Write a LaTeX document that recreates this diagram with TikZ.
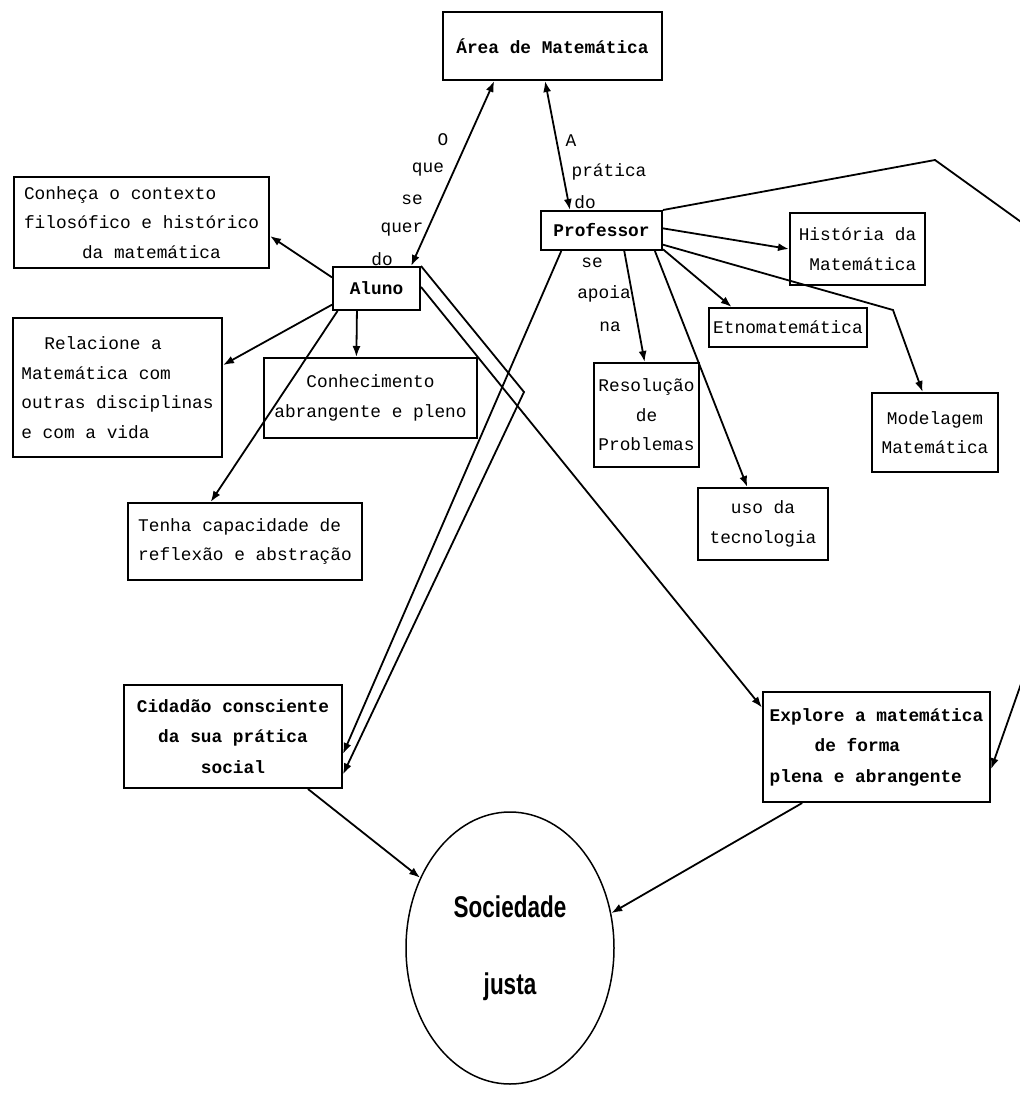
\documentclass[tikz,border=0pt]{standalone}
\usepackage{fontspec}
\setmonofont{Liberation Mono}
\newfontfamily\narrowsans[FakeStretch=0.75]{Liberation Sans}
\usetikzlibrary{arrows.meta,shapes.geometric}
\tikzset{
	box/.style={draw, line width=2pt, inner sep=0pt, align=center, font=\ttfamily\fontsize{17.8pt}{29.5pt}\selectfont},
	boldbox/.style={box, font=\ttfamily\bfseries\fontsize{17.8pt}{30.5pt}\selectfont},
	lbl/.style={inner sep=0pt, font=\ttfamily\fontsize{17.8pt}{29.5pt}\selectfont},
	link/.style={line width=1.8pt, -{Latex[length=11pt,width=8pt]}},
	dlink/.style={line width=1.8pt, {Latex[length=11pt,width=8pt]}-{Latex[length=11pt,width=8pt]}}
}

\begin{document}
\begin{tikzpicture}[x=1pt,y=-1pt]
			%%%%% START %%%%%
			\useasboundingbox (0,0) rectangle (1020,1093);
			
			\node[boldbox, minimum width=219pt, minimum height=68pt] (area) at (552.5,46) {Área de Matemática};
			\node[boldbox, minimum width=121pt, minimum height=39pt] (prof) at (601.5,230.5) {Professor};
			\node[boldbox, minimum width=87pt, minimum height=43pt] (aluno) at (376.5,288.5) {Aluno};
			
			\node[box, align=left, minimum width=255pt, minimum height=91pt] (conheca) at (141.5,222.5) {Conheça o contexto\\filosófico e histórico\\\hspace*{58pt}da matemática};
			\node[box, align=left, minimum width=209pt, minimum height=139pt] (relacione) at (117.5,387.5) {\hspace*{23pt}Relacione a\\Matemática com\\outras disciplinas\\e com a vida};
			\node[box, minimum width=213pt, minimum height=80pt] (conhec) at (370.5,398) {Conhecimento\\abrangente e pleno};
			\node[box, align=left, minimum width=234pt, minimum height=77pt] (tenha) at (245,541.5) {Tenha capacidade de\\reflexão e abstração};
			
			\node[box, minimum width=135pt, minimum height=72pt, align=right] (hist) at (857.5,249) {História da\\Matemática};
			\node[box, minimum width=158pt, minimum height=39pt] (etno) at (788,327.5) {Etnomatemática};
			\node[box, minimum width=105pt, minimum height=104pt] (resol) at (646.5,415) {Resolução\\de\\Problemas};
			\node[box, minimum width=126pt, minimum height=79pt] (model) at (935,432.5) {Modelagem\\Matemática};
			\node[box, minimum width=130pt, minimum height=72pt] (tecno) at (763,524) {uso da\\tecnologia};
			
			\node[boldbox, minimum width=218pt, minimum height=103pt] (cidadao) at (233,736.5) {Cidadão consciente\\da sua prática\\social};
			\node[boldbox, align=left, minimum width=227pt, minimum height=110pt] (explore) at (876.5,747) {Explore a matemática\\\hspace*{45pt}de forma\\plena e abrangente};
			\node[draw, ellipse, line width=1.5pt, minimum width=208pt, minimum height=272pt, align=center, font=\narrowsans\bfseries\fontsize{30pt}{77pt}\selectfont] (soc) at (510,948) {Sociedade\\justa};
			
			% link labels
			\node[lbl] (q1) at (443,140) {O};
			\node[lbl] (q2) at (428,170) {que};
			\node[lbl] (q3) at (412,200) {se};
			\node[lbl] (q4) at (402,230) {quer};
			\node[lbl] (q5) at (382,259) {do};
			\node[lbl] (p1) at (571,141) {A};
			\node[lbl] (p2) at (609,172) {prática};
			\node[lbl] (p3) at (585,202) {do};
			\node[lbl] (s1) at (592,263) {se};
			\node[lbl] (s2) at (604,294) {apoia};
			\node[lbl] (s3) at (610,327) {na};
			
			\coordinate (mbend) at (893,310);
			\coordinate (abend) at (524,392);
			\coordinate (ptop) at (935,160);
			\coordinate (pout1) at (1060,250);
			\coordinate (pout2) at (1054,590);
			
			\draw[dlink] (area.211) -- (aluno.33);
			\draw[dlink] (area.258) -- (prof.147);
			
			\draw[link] (prof.2) -- (hist.west);
			\draw[link] (prof.-17) -- (etno.160);
			\draw[link] (prof.-13) -- (mbend) -- (model.107);
			\draw[link] (prof.-42) -- (resol.92);
			\draw[link] (prof.-21) -- (tecno.113);
			\draw[link] (prof.north east) -- (ptop) -- (pout1) -- (pout2) -- (explore.-11);
			\draw[link] (prof.207) -- (cidadao.-9);
			
			\draw[link] (aluno.166) -- (conheca.-6);
			\draw[link] (aluno.200) -- (relacione.12);
			\draw[link] (aluno.229) -- (conhec.109);
			\draw[link] (aluno.210) -- (tenha.131);
			\draw[link] (aluno.2) -- (explore.161);
			\draw[link] (aluno.north east) -- (abend) -- (cidadao.-19);
			
			\draw[link] (cidadao.-35) -- (soc.142);
			\draw[link] (explore.217) -- (soc.19);
			
			%%%%% END %%%%%
\end{tikzpicture}
\end{document}
